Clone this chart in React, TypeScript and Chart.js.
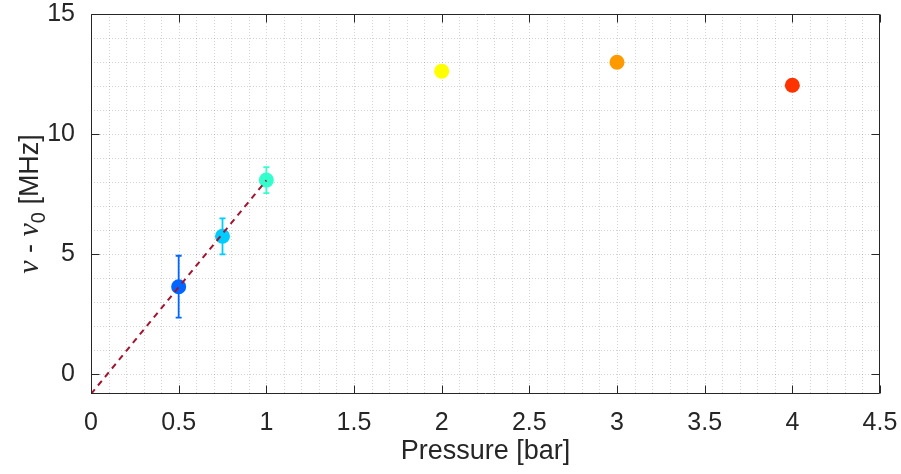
import { useEffect, useRef } from "react";
import { Chart, registerables } from "chart.js";

Chart.register(...registerables);

// Measured frequency shift against buffer-gas pressure
const pressure = [0.5, 0.75, 1, 2, 3, 4];
const shift = [3.64, 5.74, 8.08, 12.62, 12.99, 12.03];
const shiftErr = [1.29, 0.75, 0.54, null, null, null];
const pointColors = ["#0066ff", "#00ccff", "#33ffcc", "#ffff00", "#ff9900", "#ff3300"];

// Linear fit through the low-pressure points
const fitX = [0, 1];
const fitY = [-0.83, 8.07];

// Axis ranges and tick labels
const xRange = [0, 4.5];
const yRange = [-0.83, 15];
const xTicks = [0, 0.5, 1, 1.5, 2, 2.5, 3, 3.5, 4, 4.5];
const xTickLabels = ["0", "0.5", "1", "1.5", "2", "2.5", "3", "3.5", "4", "4.5"];
const yTicks = [0, 5, 10, 15];
const yTickLabels = ["0", "5", "10", "15"];
const xMinorStep = 0.1;
const yMinorStep = 1;

const xTitle = "Pressure [bar]";

const AXIS_COLOR = "#262626";
const SANS = "'Liberation Sans', Arial, sans-serif";
const SERIF = "'Liberation Serif', 'DejaVu Serif', serif";

const noPad = (s: any) => {
  s.paddingTop = 0;
  s.paddingBottom = 0;
  s.paddingLeft = 0;
  s.paddingRight = 0;
};

const framePlugin = {
  id: "frame",
  beforeDatasetsDraw(chart: any) {
    const { ctx, chartArea: a, scales } = chart;
    const x = scales.x;
    const y = scales.y;
    ctx.save();
    // dotted grid (major and minor)
    ctx.strokeStyle = "rgba(38,38,38,0.2)";
    ctx.lineWidth = 1;
    ctx.setLineDash([1, 2]);
    ctx.beginPath();
    const nx = Math.round((xRange[1] - xRange[0]) / xMinorStep);
    for (let i = 1; i < nx; i++) {
      const px = Math.round(x.getPixelForValue(xRange[0] + i * xMinorStep)) + 0.5;
      ctx.moveTo(px, a.top);
      ctx.lineTo(px, a.bottom);
    }
    for (let v = Math.ceil(yRange[0]); v < yRange[1]; v += yMinorStep) {
      const py = Math.round(y.getPixelForValue(v)) + 0.5;
      ctx.moveTo(a.left, py);
      ctx.lineTo(a.right, py);
    }
    ctx.stroke();
    ctx.setLineDash([]);

    // error bars
    ctx.lineWidth = 1.8;
    for (let i = 0; i < pressure.length; i++) {
      const e = shiftErr[i];
      if (e == null) continue;
      const px = x.getPixelForValue(pressure[i]);
      const top = y.getPixelForValue(shift[i] + e);
      const bot = y.getPixelForValue(shift[i] - e);
      ctx.strokeStyle = pointColors[i];
      ctx.beginPath();
      ctx.moveTo(px, top);
      ctx.lineTo(px, bot);
      ctx.moveTo(px - 3, top);
      ctx.lineTo(px + 3, top);
      ctx.moveTo(px - 3, bot);
      ctx.lineTo(px + 3, bot);
      ctx.stroke();
    }
    ctx.restore();
  },
  afterDatasetsDraw(chart: any) {
    const { ctx, chartArea: a, scales } = chart;
    const x = scales.x;
    const y = scales.y;
    const L = Math.round(a.left) + 0.5;
    const R = Math.round(a.right) - 0.5;
    const T = Math.round(a.top) + 0.5;
    const B = Math.round(a.bottom) - 0.5;
    ctx.save();
    ctx.strokeStyle = AXIS_COLOR;
    ctx.lineWidth = 1;
    ctx.beginPath();
    ctx.rect(L, T, R - L, B - T);
    const tl = 8;
    for (const v of xTicks) {
      const px = Math.round(x.getPixelForValue(v)) + 0.5;
      ctx.moveTo(px, B);
      ctx.lineTo(px, B - tl);
      ctx.moveTo(px, T);
      ctx.lineTo(px, T + tl);
    }
    for (const v of yTicks) {
      const py = Math.round(y.getPixelForValue(v)) + 0.5;
      ctx.moveTo(L, py);
      ctx.lineTo(L + tl, py);
      ctx.moveTo(R, py);
      ctx.lineTo(R - tl, py);
    }
    ctx.stroke();
    ctx.restore();
  },
  afterDraw(chart: any) {
    const { ctx, chartArea: a } = chart;
    ctx.save();
    ctx.fillStyle = AXIS_COLOR;
    // x-axis title
    ctx.font = `27px ${SANS}`;
    ctx.textAlign = "center";
    ctx.textBaseline = "middle";
    ctx.fillText(xTitle, (a.left + a.right) / 2, 452);

    // y-axis title: ν - ν₀ [MHz], rotated
    const parts = [
      { t: "ν", font: `italic 30px ${SERIF}`, dy: 0 },
      { t: " - ", font: `27px ${SANS}`, dy: 0 },
      { t: "ν", font: `italic 30px ${SERIF}`, dy: 0 },
      { t: "0", font: `20px ${SANS}`, dy: 7 },
      { t: " [MHz]", font: `27px ${SANS}`, dy: 0 },
    ];
    let total = 0;
    const widths = parts.map((p) => {
      ctx.font = p.font;
      const w = ctx.measureText(p.t).width;
      total += w;
      return w;
    });
    const cy = (a.top + a.bottom) / 2;
    ctx.translate(38, cy);
    ctx.rotate(-Math.PI / 2);
    ctx.textAlign = "left";
    ctx.textBaseline = "alphabetic";
    let cx = -total / 2;
    parts.forEach((p, i) => {
      ctx.font = p.font;
      ctx.fillText(p.t, cx, p.dy);
      cx += widths[i];
    });
    ctx.restore();
  },
};

export default function App() {
  const canvasRef = useRef<HTMLCanvasElement | null>(null);

  useEffect(() => {
    document.body.style.margin = "0";
    const canvas = canvasRef.current;
    if (!canvas) return;
    const chart = new Chart(canvas, {
      type: "scatter",
      data: {
        datasets: [
          {
            type: "line",
            data: fitX.map((v, i) => ({ x: v, y: fitY[i] })),
            borderColor: "#a2142f",
            borderWidth: 2,
            borderDash: [6, 5],
            pointRadius: 0,
            fill: false,
            order: 0,
          },
          {
            type: "scatter",
            data: pressure.map((v, i) => ({ x: v, y: shift[i] })),
            pointBackgroundColor: pointColors,
            pointBorderColor: pointColors,
            pointBorderWidth: 0,
            pointRadius: 7.5,
            order: 1,
          },
        ],
      },
      options: {
        animation: false,
        responsive: true,
        maintainAspectRatio: false,
        layout: { padding: { top: 14, right: 21, left: 0, bottom: 0 } },
        plugins: { legend: { display: false }, tooltip: { enabled: false } },
        scales: {
          x: {
            type: "linear",
            min: xRange[0],
            max: xRange[1],
            afterBuildTicks: (s: any) => {
              s.ticks = xTicks.map((v) => ({ value: v }));
            },
            afterFit: (s: any) => {
              s.height = 80;
              noPad(s);
            },
            grid: { display: false },
            border: { display: false },
            ticks: {
              color: AXIS_COLOR,
              font: { family: SANS, size: 25 },
              padding: 6,
              maxRotation: 0,
              autoSkip: false,
              callback: (v: any) => {
                const i = xTicks.indexOf(Number(v));
                return i >= 0 ? xTickLabels[i] : "";
              },
            },
          },
          y: {
            type: "linear",
            min: yRange[0],
            max: yRange[1],
            afterBuildTicks: (s: any) => {
              s.ticks = yTicks.map((v) => ({ value: v }));
            },
            afterFit: (s: any) => {
              s.width = 91;
              noPad(s);
            },
            grid: { display: false },
            border: { display: false },
            ticks: {
              color: AXIS_COLOR,
              font: { family: SANS, size: 25 },
              padding: 8,
              autoSkip: false,
              callback: (v: any) => {
                const i = yTicks.indexOf(Number(v));
                return i >= 0 ? yTickLabels[i] : "";
              },
            },
          },
        },
      },
      plugins: [framePlugin],
    });
    return () => chart.destroy();
  }, []);

  return (
    <div style={{ position: "absolute", left: 0, top: 0, width: 901, height: 474, background: "#fff" }}>
      <canvas ref={canvasRef} />
    </div>
  );
}
